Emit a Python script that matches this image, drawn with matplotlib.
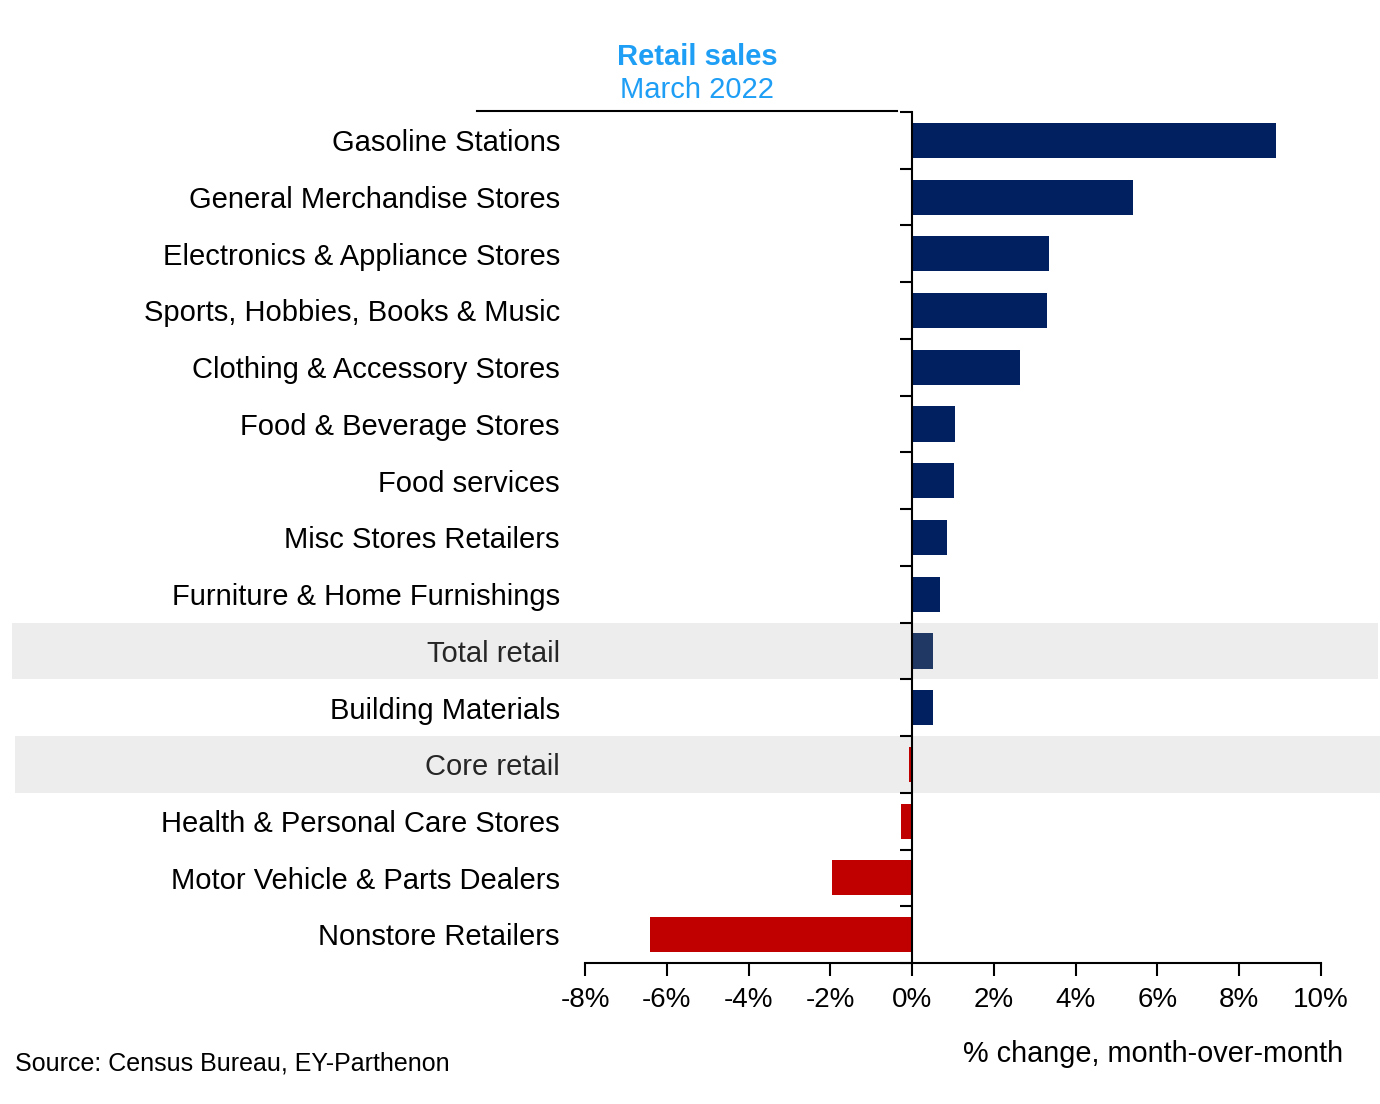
import numpy as np
import matplotlib
matplotlib.use("Agg")
from matplotlib import pyplot as plt
from matplotlib import transforms

plt.rcParams['font.family'] = ['Liberation Sans', 'DejaVu Sans']

categories = [
    "Gasoline Stations",
    "General Merchandise Stores",
    "Electronics & Appliance Stores",
    "Sports, Hobbies, Books & Music",
    "Clothing & Accessory Stores",
    "Food & Beverage Stores",
    "Food services",
    "Misc Stores Retailers",
    "Furniture & Home Furnishings",
    "Total retail",
    "Building Materials",
    "Core retail",
    "Health & Personal Care Stores",
    "Motor Vehicle & Parts Dealers",
    "Nonstore Retailers",
]
values = [8.9, 5.4, 3.35, 3.3, 2.65, 1.05, 1.03, 0.86, 0.68, 0.5, 0.5, -0.07, -0.27, -1.95, -6.4]
highlighted = ["Total retail", "Core retail"]
x_ticks = [-8, -6, -4, -2, 0, 2, 4, 6, 8, 10]

NAVY = "#002060"
TOTAL = "#203864"
RED = "#C00000"
BAND = "#EDEDED"
BLUE = "#1E9EF5"

fig = plt.figure(figsize=(13.8, 11.04), dpi=100)
ax = fig.add_axes([585 / 1380, 1 - 963 / 1104, 736 / 1380, (963 - 112) / 1104])

n = len(categories)
y = np.arange(n)

# gray bands behind the two summary rows
for name in highlighted:
    i = categories.index(name)
    if name == "Total retail":
        x0, x1 = (12 - 585) / 736, (1378 - 585) / 736
    else:
        x0, x1 = (15 - 585) / 736, (1380 - 585) / 736
    ax.axhspan(i - 0.5, i + 0.5, xmin=x0, xmax=x1, color=BAND, zorder=0, clip_on=False, lw=0)

colors = []
for name, v in zip(categories, values):
    if v < 0:
        colors.append(RED)
    elif name == "Total retail":
        colors.append(TOTAL)
    else:
        colors.append(NAVY)
ax.barh(y, values, height=0.62, color=colors, zorder=2)

ax.set_xlim(-8, 10)
ax.set_ylim(n - 0.5, -0.5)
ax.set_xticks(x_ticks)
ax.set_xticklabels([f"{t}%" for t in x_ticks], fontsize=20)
ax.tick_params(axis="x", direction="out", length=9, width=1.5, pad=8)

# y axis line at zero with ticks between categories
ax.spines["left"].set_position(("data", 0))
ax.spines["left"].set_linewidth(1.5)
ax.spines["left"].set_zorder(3)
ax.spines["right"].set_visible(False)
ax.spines["top"].set_visible(False)
ax.spines["bottom"].set_linewidth(1.5)
ax.set_yticks(np.arange(-0.5, n, 1.0))
ax.set_yticklabels([])
ax.tick_params(axis="y", direction="out", length=9, width=1.5)

trans = transforms.blended_transform_factory(fig.transFigure, ax.transData)
for i, name in enumerate(categories):
    ax.text(560 / 1380, i + 0.05, name, transform=trans, ha="right", va="center",
            fontsize=21, color="#000000" if name not in highlighted else "#262626")

# title block
fig.text(697 / 1380, 1 - 57 / 1104, "Retail sales", ha="center", va="center",
         fontsize=21, fontweight="bold", color=BLUE)
fig.text(697 / 1380, 1 - 90 / 1104, "March 2022", ha="center", va="center",
         fontsize=21, color=BLUE)
fig.add_artist(plt.Line2D([477 / 1380, 897 / 1380], [1 - 111 / 1104, 1 - 111 / 1104],
                          color="black", lw=1.5, transform=fig.transFigure))

fig.text(1343 / 1380, 1 - 1054 / 1104, "% change, month-over-month", ha="right", va="center",
         fontsize=20.8)
fig.text(15 / 1380, 1 - 1063 / 1104, "Source: Census Bureau, EY-Parthenon", ha="left",
         va="center", fontsize=18)

fig.savefig("out.png", dpi=100)
